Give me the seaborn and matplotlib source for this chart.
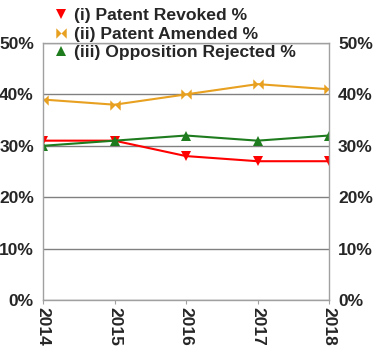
import pandas as pd
import seaborn as sns
import matplotlib.pyplot as plt
from matplotlib.lines import Line2D

# === data ===
years = [2014, 2015, 2016, 2017, 2018]
revoked = [31, 31, 28, 27, 27]
amended = [39, 38, 40, 42, 41]
rejected = [30, 31, 32, 31, 32]
series_names = ['(i) Patent Revoked %', '(ii) Patent Amended %', '(iii) Opposition Rejected %']
y_ticks = [0, 10, 20, 30, 40, 50]

df = pd.DataFrame({
    'Year': years * 3,
    'Value': revoked + amended + rejected,
    'Series': [series_names[0]] * 5 + [series_names[1]] * 5 + [series_names[2]] * 5,
})

sns.set_style('white')
plt.rcParams['font.family'] = ['Liberation Sans', 'DejaVu Sans']
plt.rcParams['font.weight'] = 'bold'

bowtie = [(-1, -1), (0, 0), (1, -1), (1, 1), (0, 0), (-1, 1)]
palette = {series_names[0]: '#FF0000', series_names[1]: '#E8A020', series_names[2]: '#1E7B1E'}
markers = {series_names[0]: 'v', series_names[1]: bowtie, series_names[2]: '^'}

fig = plt.figure(figsize=(3.75, 3.52), dpi=100)
ax = fig.add_axes([43 / 375, 52 / 352, 286 / 375, 257 / 352])

sns.lineplot(data=df, x='Year', y='Value', hue='Series', style='Series',
             palette=palette, markers=markers, dashes=False, markersize=7.5,
             markeredgewidth=0, linewidth=1.5, ax=ax, legend=False)

ax.set_xlim(2014, 2018)
ax.set_ylim(0, 50)
ax.set_yticks(y_ticks)
ax.set_yticklabels([f'{v}%' for v in y_ticks])
ax.set_xticks(years)
ax.set_xticklabels([str(y) for y in years], rotation=-90)
ax.set_xlabel('')
ax.set_ylabel('')
ax.yaxis.grid(True, color='#808080', linewidth=1)
for s in ax.spines.values():
    s.set_color('#A0A0A0')
    s.set_linewidth(1)
ax.tick_params(axis='y', labelright=True, left=False, right=False, labelsize=12.5, pad=3)
ax.tick_params(axis='x', bottom=True, length=3, color='#A0A0A0', labelsize=12.5, pad=2)
for lbl in ax.get_xticklabels() + ax.get_yticklabels(which='both'):
    lbl.set_fontweight('bold')

# legend
handles = [Line2D([], [], color=palette[n], marker=markers[n], linestyle='none',
                  markersize=7.5, markeredgewidth=0) for n in series_names]
fig.legend(handles, series_names, loc='upper left', bbox_to_anchor=(40 / 375, 1.012),
           frameon=False, handlelength=1.0, handletextpad=0.25,
           labelspacing=0.18, borderpad=0.2, prop={'weight': 'bold', 'size': 12.6})

fig.savefig('out.png', dpi=100)
